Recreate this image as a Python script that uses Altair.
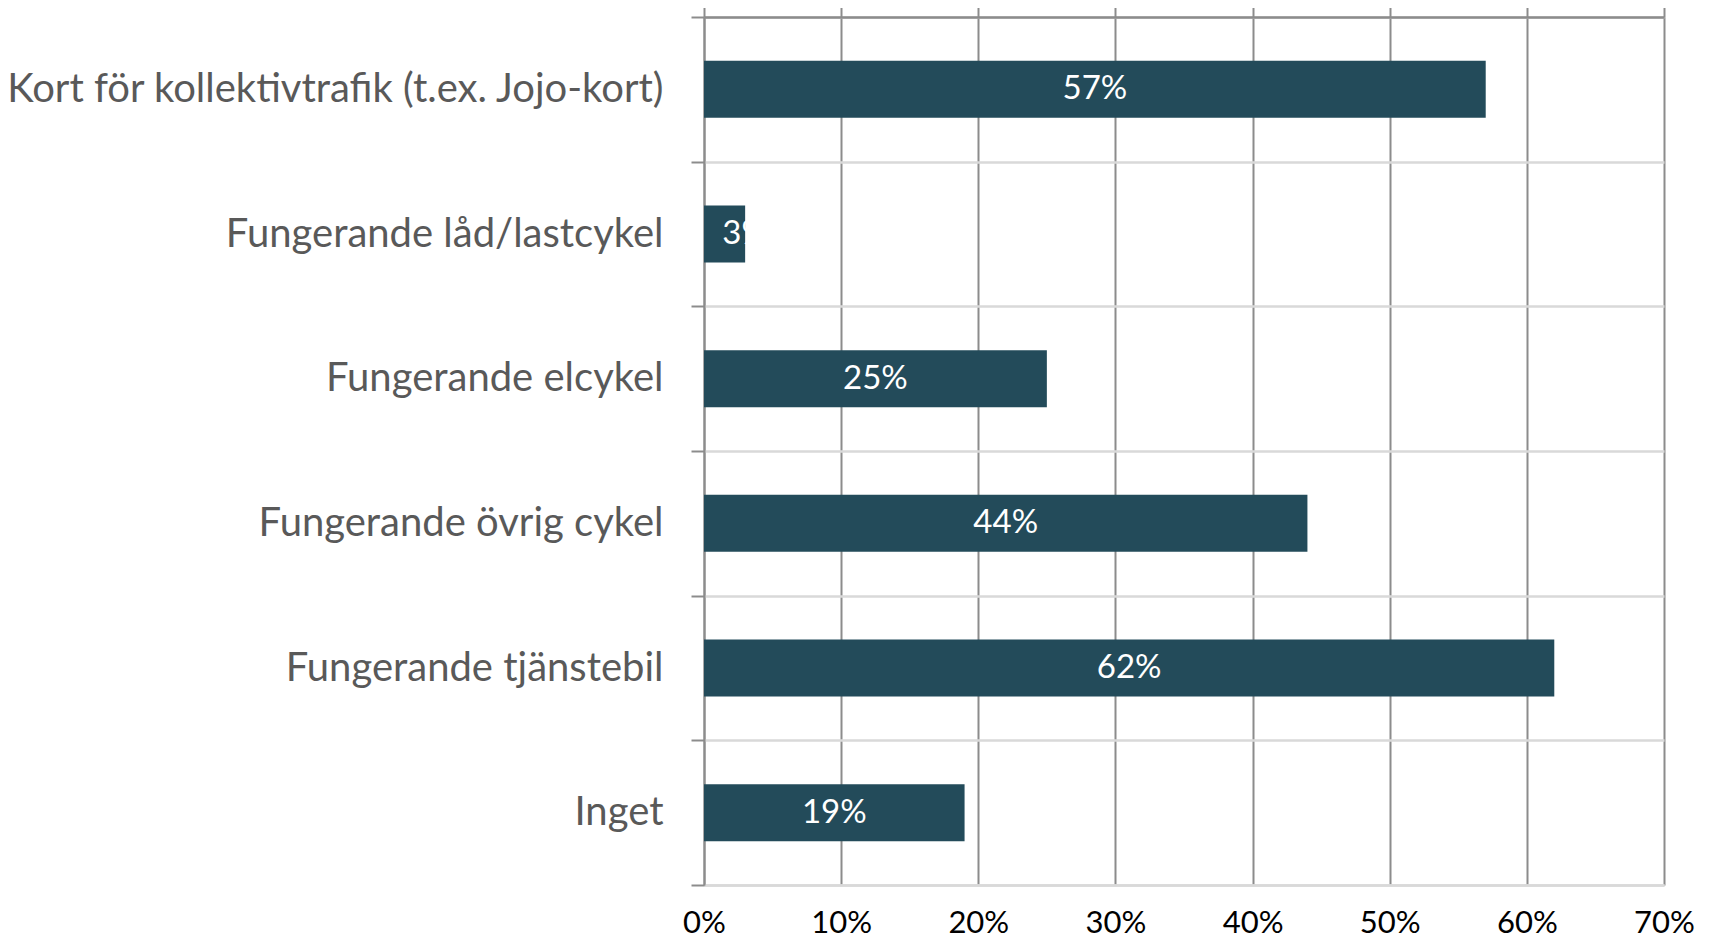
import altair as alt
import pandas as pd

categories = [
    "Kort för kollektivtrafik (t.ex. Jojo-kort)",
    "Fungerande låd/lastcykel",
    "Fungerande elcykel",
    "Fungerande övrig cykel",
    "Fungerande tjänstebil",
    "Inget",
]
values = [0.57, 0.03, 0.25, 0.44, 0.62, 0.19]
bar_labels = ["57%", "3%", "25%", "44%", "62%", "19%"]
x_ticks = [0.0, 0.1, 0.2, 0.3, 0.4, 0.5, 0.6, 0.7]

df = pd.DataFrame({"cat": categories, "value": values, "label": bar_labels})

W, H = 960, 868
BAR = "#234B5A"
DARK_GRID = "#8c8c8c"
LIGHT_GRID = "#d9d9d9"
FONT = "Lato"

xscale = alt.Scale(domain=[0, 0.7], nice=False, zero=True)
yscale = alt.Scale(domain=categories, paddingInner=0, paddingOuter=0)

bars = alt.Chart(df).mark_bar(color=BAR, height=alt.RelativeBandSize(0.394)).encode(
    x=alt.X(
        "value:Q",
        scale=xscale,
        axis=alt.Axis(
            orient="bottom",
            values=x_ticks,
            format=".0%",
            labelFont=FONT,
            labelFontSize=31,
            labelColor="#000000",
            labelPadding=23,
            labelFlush=False,
            domain=True,
            domainColor=LIGHT_GRID,
            domainWidth=2.5,
            ticks=False,
            tickSize=0,
            grid=True,
            gridColor=DARK_GRID,
            gridWidth=2,
            title=None,
        ),
    ),
    y=alt.Y(
        "cat:N",
        scale=yscale,
        sort=categories,
        axis=alt.Axis(
            tickBand="extent",
            ticks=True,
            tickSize=13,
            tickColor=DARK_GRID,
            tickWidth=2,
            grid=True,
            gridColor=LIGHT_GRID,
            gridWidth=2.5,
            domain=True,
            domainColor=DARK_GRID,
            domainWidth=2,
            labelPadding=28,
            labelFont=FONT,
            labelFontSize=40,
            labelColor="#595959",
            labelLimit=0,
            title=None,
        ),
    ),
)

texts = (
    alt.Chart(df)
    .transform_calculate(mid="datum.value < 0.05 ? datum.value : datum.value / 2")
    .mark_text(color="white", font=FONT, fontSize=33, align="center", baseline="middle")
    .encode(
        x=alt.X(
            "mid:Q",
            scale=xscale,
            axis=alt.Axis(
                orient="top",
                values=x_ticks,
                labels=False,
                ticks=True,
                tickSize=12,
                tickColor=DARK_GRID,
                tickWidth=2,
                domain=True,
                domainColor=DARK_GRID,
                domainWidth=2.5,
                grid=False,
                title=None,
            ),
        ),
        y=alt.Y("cat:N", scale=yscale, sort=categories, axis=None),
        text="label:N",
    )
)

chart = (
    alt.layer(bars, texts)
    .resolve_axis(x="independent", y="independent")
    .properties(
        width=W,
        height=H,
        autosize=alt.AutoSizeParams(type="none"),
        padding={"left": 696, "top": 9, "right": 44, "bottom": 56},
    )
    .configure_view(stroke=None)
    .configure(background="white")
)

chart.save("out.html", embed_options={"renderer": "svg", "actions": False})
